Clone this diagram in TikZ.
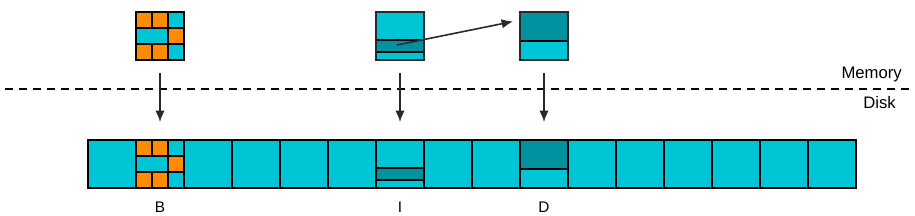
\documentclass[tikz,border=0pt]{standalone}
\usepackage{fontspec}
\setmainfont{Liberation Sans}
\usetikzlibrary{arrows.meta,calc}
\definecolor{cyanblk}{HTML}{00C5D5}
\definecolor{darkblk}{HTML}{00929E}
\definecolor{orangeblk}{HTML}{FF8C00}
\definecolor{edgegray}{HTML}{2A2A2A}
\begin{document}
\begin{tikzpicture}[x=0.75pt,y=-0.75pt,
  page/.style={draw=edgegray,line width=0.9pt,fill=cyanblk,minimum width=36pt,minimum height=36pt,inner sep=0pt,outer sep=0pt},
  blk/.style={draw=black,line width=0.9pt,fill=cyanblk,minimum width=36pt,minimum height=36pt,inner sep=0pt,outer sep=0pt},
  thick line/.style={draw=black,line width=1.6pt},
  thin line/.style={draw=black,line width=0.9pt},
  arr/.style={draw=edgegray,line width=1.2pt,-{Latex[length=8.5pt,width=7pt]}},
  lbl/.style={font=\fontsize{11.5}{13}\selectfont,inner sep=0pt},
  side/.style={font=\fontsize{12.5}{14}\selectfont,inner sep=0pt,anchor=east},
  bpat/.pic={
    \fill[orangeblk] (0,0) rectangle (16,16);
    \fill[orangeblk] (16,0) rectangle (32,16);
    \fill[orangeblk] (32,16) rectangle (48,32);
    \fill[orangeblk] (0,32) rectangle (16,48);
    \fill[orangeblk] (16,32) rectangle (32,48);
    \draw[thick line] (16,0) -- (16,16);
    \draw[thick line] (16,32) -- (16,48);
    \draw[thick line] (32,0) -- (32,48);
    \draw[thick line] (0,16) -- (48,16);
    \draw[thick line] (0,32) -- (48,32);
    \draw[thick line] (0,0) rectangle (48,48);
  },
  ipat/.pic={
    \fill[darkblk] (0,28) rectangle (48,40);
    \draw[thin line] (0,28) -- (48,28);
    \draw[thick line] (0,40) -- (48,40);
  },
  dpat/.pic={
    \fill[darkblk] (0,0) rectangle (48,29);
    \draw[thick line] (0,29) -- (48,29);
  }
]
\useasboundingbox (0,0) rectangle (915,216);
% disk blocks
\foreach \i in {0,...,15} {
  \node[blk] (d\i) at (112+48*\i,164) {};
}
\pic at (136,140) {bpat};
\pic at (376,140) {ipat};
\pic at (520,140) {dpat};
\foreach \i in {1,6,9} {\draw[thin line] (d\i.north west) rectangle (d\i.south east);}
% memory pages
\node[page] (mB) at (160,36) {};
\node[page] (mI) at (400,36) {};
\node[page] (mD) at (544,36) {};
\pic at (136,12) {bpat};
\pic at (376,12) {ipat};
\pic at (520,12) {dpat};
\draw[draw=edgegray,line width=0.9pt] (mI.north west) rectangle (mI.south east);
\draw[draw=edgegray,line width=0.9pt] (mD.north west) rectangle (mD.south east);
% copy arrow
\coordinate (istart) at (397,45);
\coordinate (iend) at (513,21.5);
\draw[arr] (istart) -- (iend);
% memory/disk separator
\draw[black,line width=1.5pt,dash pattern=on 6pt off 4.5pt] (5,89.5) -- (915,89.5);
\node[side] (mem) at (902,75) {Memory};
\node[side] (dsk) at (896,103) {Disk};
% vertical arrows
\draw[arr,shorten <=9.75pt,shorten >=13.5pt] (mB.south) -- (d1.north);
\draw[arr,shorten <=9.75pt,shorten >=13.5pt] (mI.south) -- (d6.north);
\draw[arr,shorten <=9.75pt,shorten >=13.5pt] (mD.south) -- (d9.north);
% labels
\node[lbl] (lB) at (160,207) {B};
\node[lbl] (lI) at (400,207) {I};
\node[lbl] (lD) at (544,207) {D};
\end{tikzpicture}
\end{document}
